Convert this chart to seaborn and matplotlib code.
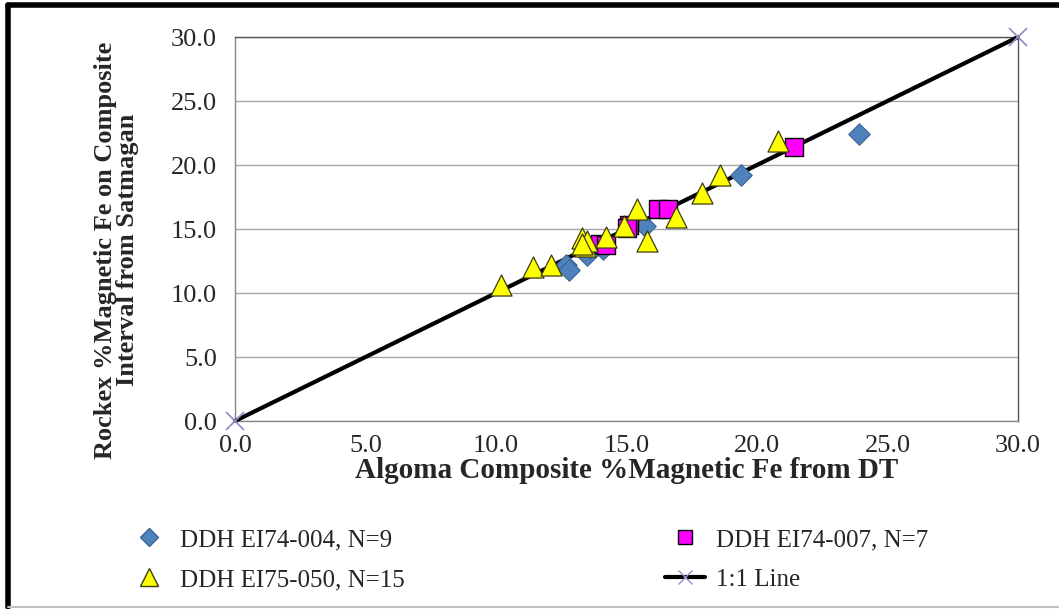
import pandas as pd
import seaborn as sns
import matplotlib.pyplot as plt
from matplotlib.lines import Line2D

# DDH EI74-004 (blue diamonds)
x_004 = [12.7, 12.8, 13.4, 13.5, 13.6, 14.1, 15.7, 19.4, 23.9]
y_004 = [12.2, 11.8, 13.3, 13.0, 13.5, 13.4, 15.2, 19.2, 22.4]

# DDH EI74-007 (magenta squares)
x_007 = [14.0, 14.2, 15.1, 16.2, 16.6, 21.4, 15.0]
y_007 = [13.8, 13.75, 15.3, 16.6, 16.6, 21.4, 15.1]

# DDH EI75-050 (yellow triangles)
x_050 = [10.2, 11.4, 12.1, 13.3, 13.4, 13.5, 13.3, 14.2, 14.9, 15.4, 15.8, 16.9, 17.9, 18.6, 20.8]
y_050 = [10.6, 12.0, 12.2, 14.3, 13.7, 14.1, 13.8, 14.4, 15.2, 16.6, 14.1, 15.9, 17.8, 19.2, 21.9]

# 1:1 line
x_line = [0.0, 30.0]
y_line = [0.0, 30.0]

ticks = [0, 5, 10, 15, 20, 25, 30]

sns.set_style('white')
plt.rcParams['font.family'] = ['Liberation Serif', 'DejaVu Serif']

fig = plt.figure(figsize=(10.59, 6.09), dpi=100)
ax = fig.add_axes([0.2219, 0.3087, 0.9613 - 0.2219, 0.9392 - 0.3087])

sns.lineplot(x=x_line, y=y_line, ax=ax, color='black', linewidth=3, marker='x',
             markersize=13, markeredgecolor='#9b8cc8', markeredgewidth=1.3, zorder=3,
             clip_on=False)

sns.scatterplot(x=x_004, y=y_004, ax=ax, marker='D', s=120, color='#4f81bd',
                edgecolor='#3a6597', linewidth=0.8, zorder=4)
sns.scatterplot(x=x_007, y=y_007, ax=ax, marker='s', s=150, color='#ff00ff',
                edgecolor='black', linewidth=1.0, zorder=4)
sns.scatterplot(x=x_050, y=y_050, ax=ax, marker='^', s=230, color='#ffff00',
                edgecolor='#3c3c14', linewidth=0.9, zorder=5)

ax.set_xlim(0, 30)
ax.set_ylim(0, 30)
ax.set_xticks(ticks)
ax.set_yticks(ticks)
ax.set_xticklabels([f'{t:.1f}' for t in ticks], fontsize=19)
ax.set_yticklabels([f'{t:.1f}' for t in ticks], fontsize=19)
ax.tick_params(direction='out', length=9, width=1, color='#888888')
ax.tick_params(axis='x', pad=1)
ax.tick_params(axis='y', pad=4)
ax.grid(axis='y', color='#a6a6a6', linewidth=1)
ax.set_axisbelow(True)
for side in ['left', 'bottom']:
    ax.spines[side].set_color('#888888')
for side in ['top', 'right']:
    ax.spines[side].set_color('#555555')
for sp in ax.spines.values():
    sp.set_linewidth(1)

ax.set_xlabel('Algoma Composite %Magnetic Fe from DT', fontsize=21, fontweight='bold', labelpad=0)
ax.set_ylabel('Rockex %Magnetic Fe on Composite\nInterval from Satmagan', fontsize=19,
              fontweight='bold', linespacing=0.92)
ax.yaxis.set_label_coords(-0.123, 0.445)

handles = [
    Line2D([], [], linestyle='none', marker='D', markersize=9.5, markerfacecolor='#4f81bd',
           markeredgecolor='#3a6597', label='DDH EI74-004, N=9'),
    Line2D([], [], linestyle='none', marker='^', markersize=13, markerfacecolor='#ffff00',
           markeredgecolor='#3c3c14', label='DDH EI75-050, N=15'),
    Line2D([], [], linestyle='none', marker='s', markersize=10, markerfacecolor='#ff00ff',
           markeredgecolor='black', label='DDH EI74-007, N=7'),
    Line2D([], [], color='black', linewidth=3, marker='x', markersize=10,
           markeredgecolor='#9b8cc8', label='1:1 Line'),
]
fig.legend(handles=handles, ncol=2, loc='upper left', bbox_to_anchor=(0.1005, 0.169),
           frameon=False, fontsize=18, columnspacing=10.4, handletextpad=0.45,
           labelspacing=0.7, handlelength=1.6)

# outer frame
fig.add_artist(Line2D([0.008, 1.0], [1 - 5 / 609, 1 - 5 / 609], color='black', linewidth=4,
                      transform=fig.transFigure))
fig.add_artist(Line2D([8 / 1059, 8 / 1059], [1 - 5 / 609, 2 / 609], color='black', linewidth=4,
                      transform=fig.transFigure))
fig.add_artist(Line2D([8 / 1059, 1.0], [2 / 609, 2 / 609], color='#c0c0c0', linewidth=1.5,
                      transform=fig.transFigure))

fig.savefig('out.png', dpi=100)
